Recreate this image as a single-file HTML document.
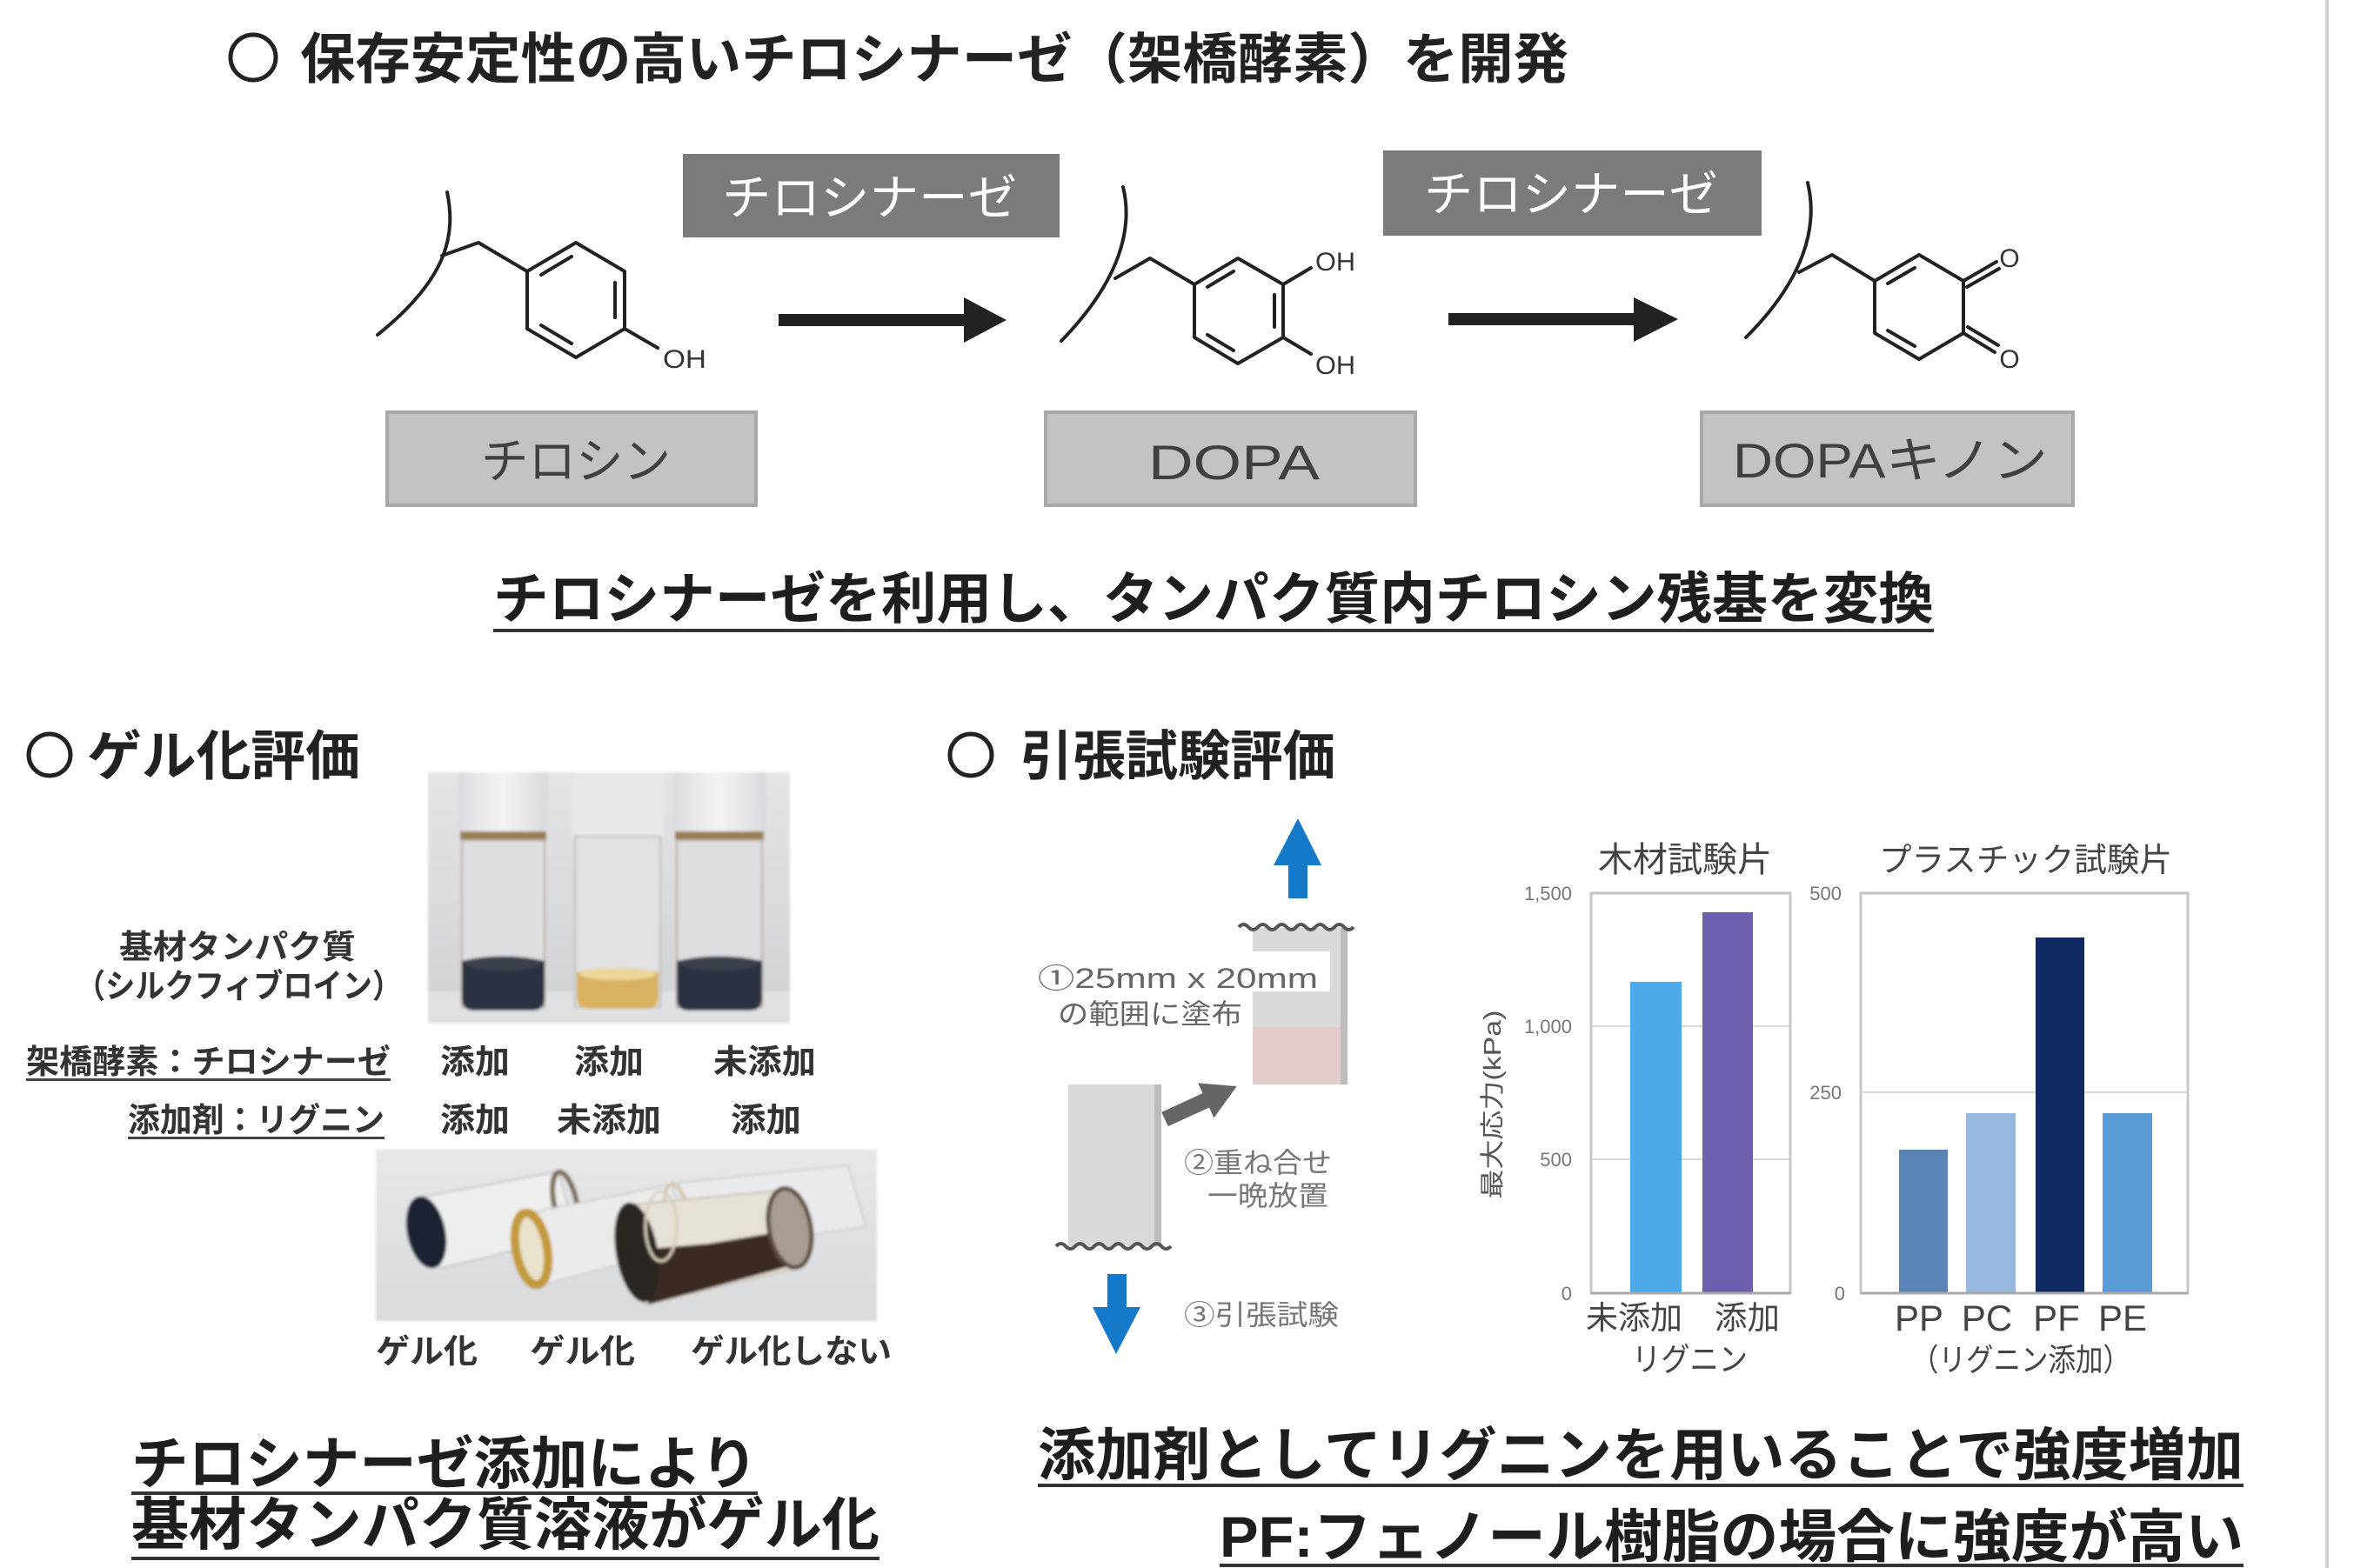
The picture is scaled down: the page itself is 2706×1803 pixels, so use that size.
<!DOCTYPE html>
<html lang="ja">
<head>
<meta charset="utf-8">
<style>
html,body{margin:0;padding:0;background:#fff;}
body{width:2706px;height:1803px;overflow:hidden;}
svg{display:block;}
text{font-family:"Liberation Sans","Noto Sans CJK JP",sans-serif;}
.b{font-weight:700;}
</style>
</head>
<body>
<svg width="2706" height="1803" viewBox="0 0 2706 1803" xmlns="http://www.w3.org/2000/svg">
<defs>
  <linearGradient id="bg1" x1="0" y1="0" x2="0" y2="1">
    <stop offset="0" stop-color="#e4e4e6"/>
    <stop offset="1" stop-color="#d0d1d3"/>
  </linearGradient>
  <linearGradient id="bg2" x1="0" y1="0" x2="0" y2="1">
    <stop offset="0" stop-color="#e6e7e9"/>
    <stop offset="1" stop-color="#d9dadc"/>
  </linearGradient>
  <linearGradient id="cap" x1="0" y1="0" x2="1" y2="0">
    <stop offset="0" stop-color="#dcdcdf"/>
    <stop offset="0.5" stop-color="#f4f4f6"/>
    <stop offset="1" stop-color="#dadadd"/>
  </linearGradient>
  <filter id="soft" x="-5%" y="-5%" width="110%" height="110%">
    <feGaussianBlur stdDeviation="1.6"/>
  </filter>
</defs>

<!-- right border line -->
<rect x="2673" y="0" width="4" height="1803" fill="#d2d2d2"/>

<!-- ===== Title ===== -->
<circle cx="291" cy="66" r="26" fill="none" stroke="#222" stroke-width="5"/>
<text class="b" x="345" y="90" font-size="63" fill="#222" textLength="1458" lengthAdjust="spacingAndGlyphs">保存安定性の高いチロシナーゼ（架橋酵素）を開発</text>

<!-- enzyme boxes -->
<rect x="785" y="177" width="433" height="96" fill="#7b7b7b"/>
<text x="830" y="247" font-size="56" fill="#fff" textLength="339" lengthAdjust="spacingAndGlyphs">チロシナーゼ</text>
<rect x="1590" y="173" width="435" height="98" fill="#7b7b7b"/>
<text x="1637" y="243" font-size="56" fill="#fff" textLength="338" lengthAdjust="spacingAndGlyphs">チロシナーゼ</text>

<!-- arrows -->
<rect x="895" y="361" width="218" height="14" fill="#222"/>
<polygon points="1108,342 1157,368 1108,394" fill="#222"/>
<rect x="1665" y="360" width="218" height="14" fill="#222"/>
<polygon points="1878,342 1929,367 1878,393" fill="#222"/>

<!-- Tyrosine -->
<g fill="none" stroke="#222" stroke-width="4" stroke-linejoin="round" stroke-linecap="round">
  <path d="M514,221 C524,270 515,320 434,385"/>
  <polyline points="508,294 550,279 606,312"/>
  <polygon points="662,279 718,312 718,378 662,411 606,378 606,312"/>
  <line x1="622" y1="316" x2="657" y2="295"/>
  <line x1="707" y1="325" x2="707" y2="365"/>
  <line x1="622" y1="374" x2="657" y2="395"/>
  <line x1="718" y1="378" x2="756" y2="400"/>
</g>
<text x="762" y="423" font-size="30" fill="#333" textLength="50" lengthAdjust="spacingAndGlyphs">OH</text>

<!-- DOPA -->
<g fill="none" stroke="#222" stroke-width="4" stroke-linejoin="round" stroke-linecap="round">
  <path d="M1291,215 C1302,260 1290,320 1220,392"/>
  <polyline points="1282,320 1322,297 1373,327"/>
  <polygon points="1423,297 1475,327 1475,388 1423,418 1373,388 1373,327"/>
  <line x1="1388" y1="330" x2="1418" y2="312"/>
  <line x1="1465" y1="339" x2="1465" y2="376"/>
  <line x1="1388" y1="385" x2="1418" y2="403"/>
  <line x1="1475" y1="327" x2="1507" y2="308"/>
  <line x1="1475" y1="388" x2="1507" y2="407"/>
</g>
<text x="1512" y="311" font-size="30" fill="#333" textLength="46" lengthAdjust="spacingAndGlyphs">OH</text>
<text x="1512" y="430" font-size="30" fill="#333" textLength="46" lengthAdjust="spacingAndGlyphs">OH</text>

<!-- DOPA quinone -->
<g fill="none" stroke="#222" stroke-width="4" stroke-linejoin="round" stroke-linecap="round">
  <path d="M2078,210 C2090,260 2075,320 2007,388"/>
  <polyline points="2068,313 2106,293 2155,323"/>
  <polygon points="2206,293 2257,323 2257,383 2206,413 2155,383 2155,323"/>
  <line x1="2170" y1="326" x2="2201" y2="308"/>
  <line x1="2170" y1="380" x2="2201" y2="398"/>
  <line x1="2257" y1="323" x2="2295" y2="301"/>
  <line x1="2261" y1="330" x2="2298" y2="309"/>
  <line x1="2257" y1="383" x2="2293" y2="405"/>
  <line x1="2262" y1="376" x2="2297" y2="397"/>
</g>
<text x="2310" y="307" font-size="30" fill="#333" text-anchor="middle">O</text>
<text x="2310" y="423" font-size="30" fill="#333" text-anchor="middle">O</text>

<!-- compound boxes -->
<rect x="445" y="474" width="424" height="107" fill="#c3c3c3" stroke="#a9a9a9" stroke-width="4"/>
<text x="553" y="550" font-size="56" fill="#404040" textLength="218" lengthAdjust="spacingAndGlyphs">チロシン</text>
<rect x="1202" y="474" width="425" height="107" fill="#c3c3c3" stroke="#a9a9a9" stroke-width="4"/>
<text x="1320" y="551" font-size="56" fill="#404040" textLength="197" lengthAdjust="spacingAndGlyphs">DOPA</text>
<rect x="1956" y="474" width="427" height="107" fill="#c3c3c3" stroke="#a9a9a9" stroke-width="4"/>
<text x="1992" y="549" font-size="56" fill="#404040" textLength="362" lengthAdjust="spacingAndGlyphs">DOPAキノン</text>

<!-- subtitle -->
<text class="b" x="567" y="711" font-size="64" fill="#1e1e1e" textLength="1656" lengthAdjust="spacingAndGlyphs">チロシナーゼを利用し、タンパク質内チロシン残基を変換</text>
<rect x="567" y="723" width="1656" height="4" fill="#333"/>

<!-- ===== Gel evaluation ===== -->
<circle cx="57" cy="868" r="24" fill="none" stroke="#222" stroke-width="5"/>
<text class="b" x="100" y="891" font-size="62" fill="#222" textLength="314" lengthAdjust="spacingAndGlyphs">ゲル化評価</text>

<!-- photo 1 -->
<g filter="url(#soft)">
  <rect x="492" y="888" width="416" height="289" fill="url(#bg1)"/>
  <rect x="492" y="1140" width="416" height="37" fill="#dfe0e2"/>
  <!-- vial 1 -->
  <rect x="527" y="888" width="103" height="72" fill="url(#cap)"/>
  <rect x="529" y="956" width="99" height="10" fill="#9a7d55"/>
  <rect x="531" y="966" width="95" height="192" fill="#dedee0" stroke="#b9ab94" stroke-width="2"/>
  <path d="M531,1105 Q578,1094 626,1105 L626,1148 Q626,1162 612,1162 L545,1162 Q531,1162 531,1148 Z" fill="#2b3243"/>
  <ellipse cx="578" cy="1108" rx="44" ry="8" fill="#3a3f4c"/>
  <!-- vial 2 -->
  <rect x="657" y="888" width="106" height="75" fill="#e7e7e9"/>
  <rect x="661" y="962" width="98" height="196" fill="#e1e1e3" stroke="#bdbdbd" stroke-width="2"/>
  <path d="M663,1118 Q710,1108 757,1118 L757,1146 Q757,1160 743,1160 L677,1160 Q663,1160 663,1146 Z" fill="#d8b260"/>
  <ellipse cx="710" cy="1120" rx="44" ry="7" fill="#ecd79a"/>
  <!-- vial 3 -->
  <rect x="774" y="888" width="106" height="72" fill="url(#cap)"/>
  <rect x="776" y="956" width="102" height="10" fill="#9a7d55"/>
  <rect x="778" y="966" width="98" height="192" fill="#dedee0" stroke="#b9ab94" stroke-width="2"/>
  <path d="M778,1105 Q827,1094 876,1105 L876,1148 Q876,1162 862,1162 L792,1162 Q778,1162 778,1148 Z" fill="#2b3243"/>
  <ellipse cx="827" cy="1108" rx="45" ry="8" fill="#3a3f4c"/>
</g>

<!-- labels -->
<text class="b" x="137" y="1102" font-size="38" fill="#333" textLength="272" lengthAdjust="spacingAndGlyphs">基材タンパク質</text>
<text class="b" x="87" y="1147" font-size="38" fill="#333" textLength="375" lengthAdjust="spacingAndGlyphs">（シルクフィブロイン）</text>
<text class="b" x="30" y="1234" font-size="38" fill="#333" textLength="419" lengthAdjust="spacingAndGlyphs">架橋酵素：チロシナーゼ</text>
<rect x="30" y="1240" width="419" height="3" fill="#444"/>
<text class="b" x="506" y="1234" font-size="38" fill="#333" textLength="80" lengthAdjust="spacingAndGlyphs">添加</text>
<text class="b" x="660" y="1234" font-size="38" fill="#333" textLength="80" lengthAdjust="spacingAndGlyphs">添加</text>
<text class="b" x="820" y="1234" font-size="38" fill="#333" textLength="118" lengthAdjust="spacingAndGlyphs">未添加</text>
<text class="b" x="147" y="1301" font-size="38" fill="#333" textLength="295" lengthAdjust="spacingAndGlyphs">添加剤：リグニン</text>
<rect x="147" y="1307" width="295" height="3" fill="#444"/>
<text class="b" x="506" y="1301" font-size="38" fill="#333" textLength="80" lengthAdjust="spacingAndGlyphs">添加</text>
<text class="b" x="640" y="1301" font-size="38" fill="#333" textLength="120" lengthAdjust="spacingAndGlyphs">未添加</text>
<text class="b" x="840" y="1301" font-size="38" fill="#333" textLength="81" lengthAdjust="spacingAndGlyphs">添加</text>

<!-- photo 2 -->
<g filter="url(#soft)">
  <rect x="432" y="1322" width="576" height="197" fill="url(#bg2)"/>
  <!-- background faint vial -->
  <polygon points="780,1360 975,1340 995,1410 800,1440" fill="#e9eaec" stroke="#cfd0d2" stroke-width="2"/>
  <!-- vial A -->
  <polygon points="487,1376 642,1347 662,1421 507,1458" fill="#eeeeef" stroke="#c8c8ca" stroke-width="2"/>
  <ellipse cx="490" cy="1417" rx="22" ry="42" transform="rotate(-12 490 1417)" fill="#1d2130"/>
  <ellipse cx="650" cy="1384" rx="13" ry="37" transform="rotate(-12 650 1384)" fill="none" stroke="#7e6e5a" stroke-width="6"/>
  <!-- vial B -->
  <polygon points="613,1394 772,1362 792,1432 622,1478" fill="#ebebec" stroke="#cfcfd1" stroke-width="2"/>
  <ellipse cx="611" cy="1436" rx="18" ry="42" transform="rotate(-10 611 1436)" fill="#e9e2cc" stroke="#c49a38" stroke-width="10"/>
  <ellipse cx="778" cy="1396" rx="13" ry="35" transform="rotate(-10 778 1396)" fill="none" stroke="#d6c7a6" stroke-width="4"/>
  <!-- vial C -->
  <polygon points="730,1385 905,1368 925,1456 742,1500" fill="#e6e1d6" stroke="#c9c2b5" stroke-width="2"/>
  <polygon points="724,1438 815,1430 905,1415 922,1452 746,1500" fill="#3a2b20"/>
  <ellipse cx="732" cy="1440" rx="24" ry="58" transform="rotate(-10 732 1440)" fill="#2a2622"/>
  <ellipse cx="908" cy="1412" rx="24" ry="46" transform="rotate(-10 908 1412)" fill="#a89d90" stroke="#5a4a3a" stroke-width="5"/>
  <ellipse cx="760" cy="1410" rx="18" ry="40" fill="none" stroke="#d8cfbc" stroke-width="3"/>
</g>

<text class="b" x="432" y="1567" font-size="38" fill="#333" textLength="117" lengthAdjust="spacingAndGlyphs">ゲル化</text>
<text class="b" x="609" y="1567" font-size="38" fill="#333" textLength="121" lengthAdjust="spacingAndGlyphs">ゲル化</text>
<text class="b" x="794" y="1567" font-size="38" fill="#333" textLength="231" lengthAdjust="spacingAndGlyphs">ゲル化しない</text>

<!-- conclusion left -->
<text class="b" x="151" y="1706" font-size="66" fill="#1e1e1e" textLength="720" lengthAdjust="spacingAndGlyphs">チロシナーゼ添加により</text>
<rect x="151" y="1715" width="720" height="4" fill="#333"/>
<text class="b" x="151" y="1776" font-size="66" fill="#1e1e1e" textLength="860" lengthAdjust="spacingAndGlyphs">基材タンパク質溶液がゲル化</text>
<rect x="151" y="1790" width="860" height="4" fill="#333"/>

<!-- ===== Tensile test ===== -->
<circle cx="1116" cy="868" r="24" fill="none" stroke="#222" stroke-width="5"/>
<text class="b" x="1173" y="891" font-size="62" fill="#222" textLength="362" lengthAdjust="spacingAndGlyphs">引張試験評価</text>

<!-- up arrow -->
<rect x="1481" y="993" width="22" height="40" fill="#1479c9"/>
<polygon points="1464,995 1492,941 1519,995" fill="#1479c9"/>

<!-- top specimen -->
<rect x="1440" y="1067" width="109" height="180" fill="#d9d9d9"/>
<rect x="1541" y="1067" width="8" height="180" fill="#bcbcbc"/>
<rect x="1440" y="1181" width="101" height="66" fill="#e4cccc"/>
<path d="M1424,1066 q5.5,-6 11,0 t11,0 t11,0 t11,0 t11,0 t11,0 t11,0 t11,0 t11,0 t11,0 t11,0 t11,0" fill="none" stroke="#555" stroke-width="4"/>
<rect x="1190" y="1094" width="339" height="46" fill="#fff"/>
<text x="1193" y="1136" font-size="32" fill="#666" textLength="322" lengthAdjust="spacingAndGlyphs">①25mm x 20mm</text>
<text x="1216" y="1177" font-size="32" fill="#666" textLength="212" lengthAdjust="spacingAndGlyphs">の範囲に塗布</text>

<!-- bottom specimen -->
<rect x="1228" y="1247" width="107" height="186" fill="#d9d9d9"/>
<rect x="1327" y="1247" width="8" height="186" fill="#bcbcbc"/>
<path d="M1214,1433 q5.5,-6 11,0 t11,0 t11,0 t11,0 t11,0 t11,0 t11,0 t11,0 t11,0 t11,0 t11,0 t11,0" fill="none" stroke="#555" stroke-width="4"/>

<!-- gray arrow -->
<polygon points="0,-9 52,-9 52,-22 91,0 52,22 52,9 0,9" fill="#666" transform="translate(1339,1287) rotate(-24.6)"/>
<text x="1361" y="1348" font-size="32" fill="#777" textLength="170" lengthAdjust="spacingAndGlyphs">②重ね合せ</text>
<text x="1388" y="1386" font-size="32" fill="#777" textLength="139" lengthAdjust="spacingAndGlyphs">一晩放置</text>

<!-- down arrow -->
<rect x="1273" y="1465" width="22" height="40" fill="#1479c9"/>
<polygon points="1256,1503 1311,1503 1283,1557" fill="#1479c9"/>
<text x="1361" y="1523" font-size="32" fill="#777" textLength="178" lengthAdjust="spacingAndGlyphs">③引張試験</text>

<!-- ===== Wood chart ===== -->
<text x="1837" y="1002" font-size="40" fill="#444" textLength="200" lengthAdjust="spacingAndGlyphs">木材試験片</text>
<line x1="1829" y1="1180" x2="2058" y2="1180" stroke="#dadada" stroke-width="2"/>
<line x1="1829" y1="1333" x2="2058" y2="1333" stroke="#dadada" stroke-width="2"/>
<rect x="1874" y="1129" width="59" height="358" fill="#4da9e8"/>
<rect x="1957" y="1049" width="58" height="438" fill="#6e5fae"/>
<rect x="1829" y="1027" width="229" height="460" fill="none" stroke="#c6c6c6" stroke-width="3"/>
<line x1="1829" y1="1487" x2="2058" y2="1487" stroke="#a8a8a8" stroke-width="3"/>
<text x="1807" y="1035" font-size="22" fill="#777" text-anchor="end">1,500</text>
<text x="1807" y="1188" font-size="22" fill="#777" text-anchor="end">1,000</text>
<text x="1807" y="1341" font-size="22" fill="#777" text-anchor="end">500</text>
<text x="1807" y="1495" font-size="22" fill="#777" text-anchor="end">0</text>
<text transform="translate(1725,1270) rotate(-90)" font-size="28" fill="#555" text-anchor="middle" textLength="217" lengthAdjust="spacingAndGlyphs">最大応力(kPa)</text>
<text x="1823" y="1528" font-size="37" fill="#444" textLength="111" lengthAdjust="spacingAndGlyphs">未添加</text>
<text x="1971" y="1528" font-size="37" fill="#444" textLength="75" lengthAdjust="spacingAndGlyphs">添加</text>
<text x="1876" y="1576" font-size="37" fill="#444" textLength="133" lengthAdjust="spacingAndGlyphs">リグニン</text>

<!-- ===== Plastic chart ===== -->
<text x="2160" y="1002" font-size="38" fill="#444" textLength="337" lengthAdjust="spacingAndGlyphs">プラスチック試験片</text>
<line x1="2139" y1="1256" x2="2515" y2="1256" stroke="#dadada" stroke-width="2"/>
<rect x="2183" y="1322" width="56" height="165" fill="#5a83b8"/>
<rect x="2260" y="1280" width="57" height="207" fill="#97b9df"/>
<rect x="2340" y="1078" width="56" height="409" fill="#0f2a62"/>
<rect x="2417" y="1280" width="57" height="207" fill="#5b9bd5"/>
<rect x="2139" y="1027" width="376" height="460" fill="none" stroke="#c6c6c6" stroke-width="3"/>
<line x1="2139" y1="1487" x2="2515" y2="1487" stroke="#a8a8a8" stroke-width="3"/>
<text x="2117" y="1035" font-size="22" fill="#777" text-anchor="end">500</text>
<text x="2117" y="1264" font-size="22" fill="#777" text-anchor="end">250</text>
<text x="2121" y="1495" font-size="22" fill="#777" text-anchor="end">0</text>
<text x="2206" y="1530" font-size="42" fill="#444" text-anchor="middle">PP</text>
<text x="2284" y="1530" font-size="42" fill="#444" text-anchor="middle">PC</text>
<text x="2364" y="1530" font-size="42" fill="#444" text-anchor="middle">PF</text>
<text x="2440" y="1530" font-size="42" fill="#444" text-anchor="middle">PE</text>
<text x="2197" y="1576" font-size="36" fill="#444" textLength="252" lengthAdjust="spacingAndGlyphs">（リグニン添加）</text>

<!-- conclusion right -->
<text class="b" x="1193" y="1696" font-size="66" fill="#1e1e1e" textLength="1386" lengthAdjust="spacingAndGlyphs">添加剤としてリグニンを用いることで強度増加</text>
<rect x="1193" y="1706" width="1386" height="4" fill="#333"/>
<text class="b" x="1402" y="1790" font-size="66" fill="#1e1e1e" textLength="1177" lengthAdjust="spacingAndGlyphs">PF:フェノール樹脂の場合に強度が高い</text>
<rect x="1402" y="1798" width="1177" height="4" fill="#333"/>
</svg>
</body>
</html>
